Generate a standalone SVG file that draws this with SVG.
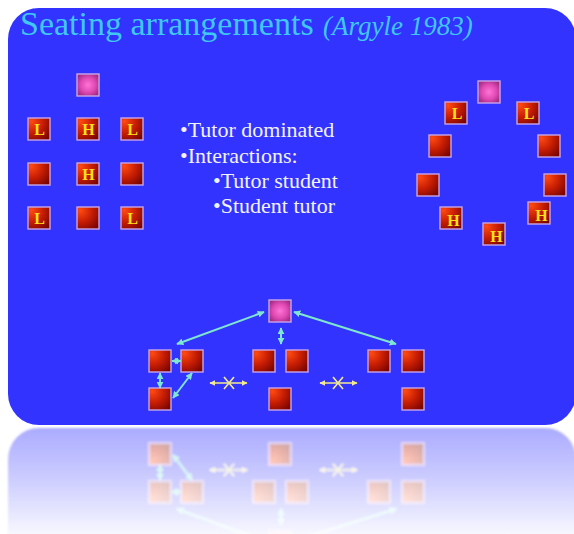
<svg xmlns="http://www.w3.org/2000/svg" xmlns:xlink="http://www.w3.org/1999/xlink" width="574" height="534" viewBox="0 0 574 534">
  <defs>
    <style>
      .bg { fill: #3333FF; }
      .seat { fill: url(#seatFill); stroke: #C9A6E8; stroke-width: 1.4; }
      .tutor { fill: url(#tutorFill); stroke: #C9A6E8; stroke-width: 1.4; }
      .mark { font-family: "Liberation Serif", "Times New Roman", serif; font-weight: bold; font-size: 16px; fill: #FFE21A; text-anchor: middle; }
      .title { font-family: "Liberation Serif", "Times New Roman", serif; font-size: 34px; fill: #3FC8F4; }
      .cite { font-family: "Liberation Serif", "Times New Roman", serif; font-size: 27px; font-style: italic; fill: #3FC8F4; }
      .bullet { font-family: "Liberation Serif", "Times New Roman", serif; font-size: 22px; fill: #F2F2FF; }
      .link { stroke: #7FE6D2; stroke-width: 2; fill: none; marker-start: url(#headTeal); marker-end: url(#headTeal); }
      .block { stroke: #F4EC8C; stroke-width: 1.6; fill: none; }
      .block-arrow { marker-start: url(#headYellow); marker-end: url(#headYellow); }
    </style>
    <radialGradient id="seatFill" cx="0.2" cy="0.2" r="1" fx="0.15" fy="0.15">
      <stop offset="0" stop-color="#FF4A12"/>
      <stop offset="0.5" stop-color="#C81E04"/>
      <stop offset="1" stop-color="#780400"/>
    </radialGradient>
    <radialGradient id="tutorFill" cx="0.5" cy="0.5" r="0.6">
      <stop offset="0" stop-color="#FF74D6"/>
      <stop offset="0.55" stop-color="#E04AB4"/>
      <stop offset="1" stop-color="#A02A80"/>
    </radialGradient>
    <marker id="headTeal" viewBox="0 0 10 10" refX="9" refY="5" markerUnits="userSpaceOnUse" markerWidth="7" markerHeight="7" orient="auto-start-reverse">
      <path d="M0,0 L10,5 L0,10 z" fill="#7FE6D2"/>
    </marker>
    <marker id="headYellow" viewBox="0 0 10 10" refX="9" refY="5" markerUnits="userSpaceOnUse" markerWidth="6" markerHeight="6" orient="auto-start-reverse">
      <path d="M0,0 L10,5 L0,10 z" fill="#F4EC8C"/>
    </marker>
    <rect id="sq" width="22" height="22" class="seat"/>
    <rect id="tq" width="22" height="22" class="tutor"/>
    <linearGradient id="fadeGrad" gradientUnits="userSpaceOnUse" x1="0" y1="428" x2="0" y2="534">
      <stop offset="0" stop-color="#FFFFFF" stop-opacity="0.41"/>
      <stop offset="0.5" stop-color="#FFFFFF" stop-opacity="0.24"/>
      <stop offset="1" stop-color="#FFFFFF" stop-opacity="0.04"/>
    </linearGradient>
    <mask id="fade" maskUnits="userSpaceOnUse" x="0" y="426" width="574" height="108">
      <rect x="0" y="426" width="574" height="108" fill="url(#fadeGrad)"/>
    </mask>
    <filter id="soft" x="-5%" y="-5%" width="110%" height="110%">
      <feGaussianBlur stdDeviation="1.2"/>
    </filter>
  </defs>

  <rect width="574" height="534" fill="#FFFFFF"/>

  <!-- the slide -->
  <g id="slide">
    <rect class="bg" x="8" y="8" width="568" height="417" rx="31" ry="31"/>

    <g id="heading">
      <text class="title" x="20" y="35">Seating arrangements</text>
      <text class="cite" x="323" y="35">(Argyle 1983)</text>
    </g>

    <g id="notes" class="bullet">
      <text x="180" y="137">•Tutor dominated</text>
      <text x="180" y="163">•Interactions:</text>
      <text x="213" y="188">•Tutor student</text>
      <text x="213" y="213">•Student tutor</text>
    </g>

    <!-- classroom rows -->
    <g id="rows-tutor"><use href="#tq" x="77" y="74"/></g>
    <g id="rows-r1c1"><use href="#sq" x="28" y="118"/><text class="mark" x="39.5" y="135">L</text></g>
    <g id="rows-r1c2"><use href="#sq" x="77" y="118"/><text class="mark" x="88.5" y="135">H</text></g>
    <g id="rows-r1c3"><use href="#sq" x="121" y="118"/><text class="mark" x="132.5" y="135">L</text></g>
    <g id="rows-r2c1"><use href="#sq" x="28" y="163"/></g>
    <g id="rows-r2c2"><use href="#sq" x="77" y="163"/><text class="mark" x="88.5" y="180">H</text></g>
    <g id="rows-r2c3"><use href="#sq" x="121" y="163"/></g>
    <g id="rows-r3c1"><use href="#sq" x="28" y="207"/><text class="mark" x="39.5" y="224">L</text></g>
    <g id="rows-r3c2"><use href="#sq" x="77" y="207"/></g>
    <g id="rows-r3c3"><use href="#sq" x="121" y="207"/><text class="mark" x="132.5" y="224">L</text></g>

    <!-- circle seating -->
    <g id="ring-tutor"><use href="#tq" x="478" y="81"/></g>
    <g id="ring-1"><use href="#sq" x="445" y="102"/><text class="mark" x="457" y="119">L</text></g>
    <g id="ring-2"><use href="#sq" x="517" y="102"/><text class="mark" x="529" y="119">L</text></g>
    <g id="ring-3"><use href="#sq" x="429" y="135"/></g>
    <g id="ring-4"><use href="#sq" x="538" y="135"/></g>
    <g id="ring-5"><use href="#sq" x="417" y="174"/></g>
    <g id="ring-6"><use href="#sq" x="544" y="174"/></g>
    <g id="ring-7"><use href="#sq" x="440" y="207"/><text class="mark" x="453.5" y="226">H</text></g>
    <g id="ring-8"><use href="#sq" x="528" y="202"/><text class="mark" x="541.5" y="221">H</text></g>
    <g id="ring-9"><use href="#sq" x="483" y="223"/><text class="mark" x="496.5" y="242">H</text></g>

    <!-- interaction groups -->
    <g id="group-tutor"><use href="#tq" x="269" y="300"/></g>
    <g id="group-a1"><use href="#sq" x="149" y="350"/></g>
    <g id="group-a2"><use href="#sq" x="181" y="350"/></g>
    <g id="group-a3"><use href="#sq" x="149" y="388"/></g>
    <g id="group-b1"><use href="#sq" x="253" y="350"/></g>
    <g id="group-b2"><use href="#sq" x="286" y="350"/></g>
    <g id="group-b3"><use href="#sq" x="269" y="388"/></g>
    <g id="group-c1"><use href="#sq" x="368" y="350"/></g>
    <g id="group-c2"><use href="#sq" x="402" y="350"/></g>
    <g id="group-c3"><use href="#sq" x="402" y="388"/></g>

    <g id="connectors">
      <line class="link" x1="177" y1="344" x2="264" y2="312"/>
      <line class="link" x1="294" y1="312" x2="396" y2="344"/>
      <line class="link" x1="281" y1="328" x2="281" y2="344"/>
      <line class="link" x1="172" y1="361" x2="181" y2="361"/>
      <line class="link" x1="160" y1="373" x2="160" y2="388"/>
      <line class="link" x1="192" y1="373" x2="173" y2="398"/>
      <line class="block block-arrow" x1="210" y1="383" x2="247" y2="383"/>
      <path class="block" d="M224,377 L234,389 M224,389 L234,377"/>
      <line class="block block-arrow" x1="320" y1="383" x2="357" y2="383"/>
      <path class="block" d="M333,377 L343,389 M333,389 L343,377"/>
    </g>
  </g>

  <!-- mirrored copy below the slide -->
  <g id="reflection" mask="url(#fade)">
    <g filter="url(#soft)">
      <use href="#slide" transform="matrix(1 0 0 -1 0 853)"/>
    </g>
  </g>
</svg>
